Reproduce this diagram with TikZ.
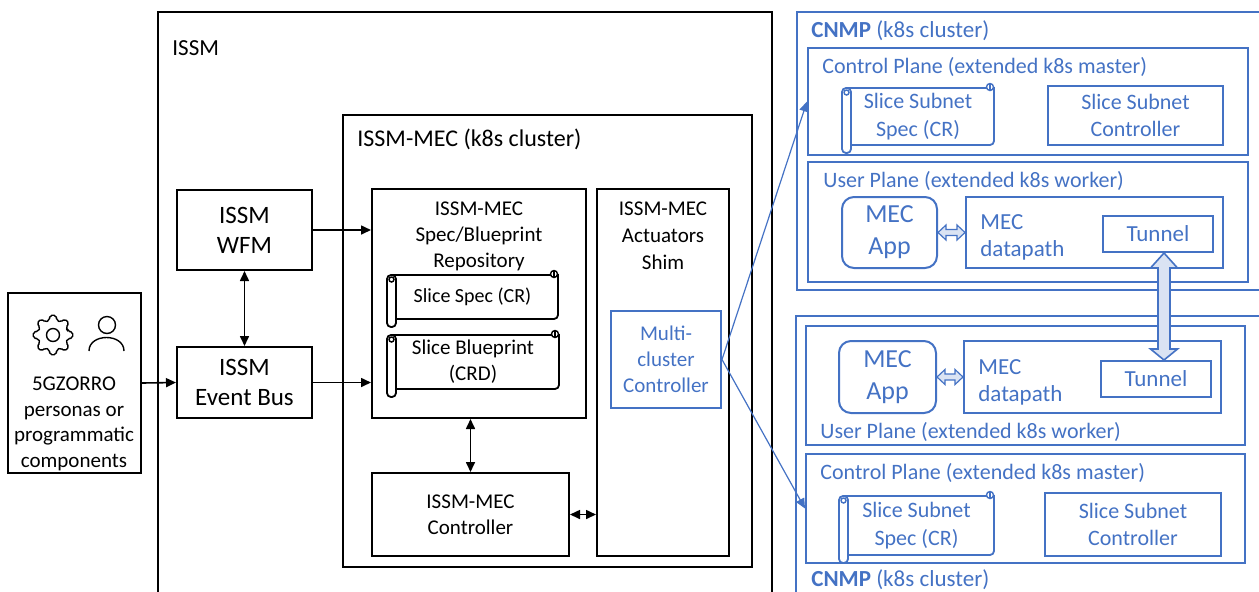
\documentclass[tikz,border=0pt]{standalone}
\usepackage{fontspec}
\setmainfont{Carlito}
\usetikzlibrary{calc}
\usetikzlibrary{arrows.meta}

\definecolor{cnblue}{RGB}{68,114,196}
\definecolor{cnfill}{RGB}{218,227,243}

\newcommand{\fsz}[2]{\fontsize{#1}{#2}\selectfont}
% scroll outline round a named node
\newcommand{\scrollfor}[2]{%
  \draw[#2, line width=0.9pt] ($(#1.north west)+(4,0)$) -- (#1.north east) [rounded corners=2pt] -- (#1.south east) -- ($(#1.south west)+(4,0)$);
  \draw[#2, line width=0.9pt, fill=white, rounded corners=2pt] (#1.north west) rectangle ($(#1.south west)+(9,8)$);
  \draw[#2, line width=0.7pt] ($(#1.north west)+(4.5,4.5)$) circle[radius=2.5];
  \draw[#2, line width=0.7pt, fill=white] ($(#1.north east)+(-4,-1)$) circle[radius=3.5];
  \draw[#2, line width=0.7pt] ($(#1.north east)+(-4,-4.5)$) -- ($(#1.north east)+(-4,2.5)$);}
\newcommand{\hdbl}[2]{%
  \draw[blockarr, line width=0.6pt] (#1.east) -- ++(8,-7.5) -- ++(0,4.5) -- ($(#2.west)+(-8,-3)$) -- ++(0,-4.5) -- (#2.west) -- ++(-8,7.5) -- ++(0,-4.5) -- ($(#1.east)+(8,3)$) -- ++(0,4.5) -- cycle;}

\begin{document}
\begin{tikzpicture}[x=0.5pt,y=-0.5pt,
    span/.style n args={4}{at={(#1/2+#3/2,#2/2+#4/2)}, minimum width=(#3-#1)*0.5pt, minimum height=(#4-#2)*0.5pt},
    box/.style={draw, line width=1pt, inner sep=0pt, align=center},
    bluebox/.style={box, draw=cnblue, text=cnblue},
    lbl/.style={anchor=west, inner sep=0pt},
    arr/.style={line width=0.8pt, -{Triangle[length=5pt,width=4.5pt]}},
    dblarr/.style={line width=0.8pt, {Triangle[length=5pt,width=4.5pt]}-{Triangle[length=5pt,width=4.5pt]}},
    bluearr/.style={cnblue, line width=0.6pt, -{Triangle[length=5pt,width=4.5pt]}},
    blockarr/.style={draw=cnblue, fill=cnfill, line width=0.8pt, line join=miter}]

  \useasboundingbox (0,0) rectangle (1259,591);
  \clip (0,0) rectangle (1259,591);

  % personas
  \node[box, span={8}{293}{141}{473}] (persona) {};
  \draw[line width=0.7pt, rounded corners=1pt, shift={(53,335)}] (-14:15)
    \foreach \a in {0,45,...,315} { -- (\a-14:15) -- (\a-9:20) -- (\a+9:20) -- (\a+14:15) } -- cycle;
  \draw[line width=0.7pt] (53,335) circle[radius=6.5];
  \draw[line width=0.7pt] (107,325) circle[radius=8.5];
  \draw[line width=0.7pt] (89,351) .. controls (89,333) and (124,333) .. (124,351);
  \node[align=center, font=\fsz{10.5}{12.8}] (personatxt) at (74,424) {5GZORRO\\personas or\\programmatic\\components};

  % ISSM
  \node[box, span={158}{12}{772}{620}] (issm) {};
  \node[lbl, font=\fsz{11.5}{14}] (issmlbl) at (172,48) {ISSM};
  \node[box, span={177}{190}{312}{270}, font=\fsz{12.5}{15}] (wfm) {ISSM\\WFM};
  \node[box, span={177}{347}{312}{418}, font=\fsz{12.5}{15}] (evbus) {ISSM\\Event Bus};

  \node[box, span={343}{115}{752}{567}] (issmmec) {};
  \node[lbl, font=\fsz{12}{14}] (issmmeclbl) at (357,139) {ISSM-MEC (k8s cluster)};
  \node[box, span={372}{189}{586}{418}] (repo) {};
  \node[align=center, font=\fsz{10.5}{13}] (repotxt) at (479,236) {ISSM-MEC\\Spec/Blueprint\\Repository};
  \node[box, draw=none, span={388}{276}{557}{318}, font=\fsz{10}{12}] (specA) {Slice Spec (CR)};
  \scrollfor{specA}{black}
  \node[box, draw=none, span={388}{336}{558}{388}, font=\fsz{10.5}{13}] (bprint) {Slice Blueprint\\(CRD)};
  \scrollfor{bprint}{black}
  \node[box, span={372}{473}{569}{556}, font=\fsz{10.5}{13}] (ctrl) {ISSM-MEC\\Controller};
  \node[box, span={597}{189}{729}{556}] (shim) {};
  \node[align=center, font=\fsz{10.5}{13.5}] (shimtxt) at (663,236) {ISSM-MEC\\Actuators\\Shim};
  \node[bluebox, span={611}{311}{721}{408}, font=\fsz{10.5}{13}] (mcc) {Multi-\\cluster\\Controller};

  % upper CNMP
  \node[bluebox, span={797}{12}{1275}{290}] (cnmpA) {};
  \node[lbl, text=cnblue, font=\fsz{11.5}{14}] (cnmpAlbl) at (811,31) {\textbf{CNMP} (k8s cluster)};
  \node[bluebox, span={808}{48}{1248}{155}] (cpA) {};
  \node[lbl, text=cnblue, font=\fsz{11}{13}] (cpAlbl) at (822,67) {Control Plane (extended k8s master)};
  \node[box, draw=none, text=cnblue, span={843}{89}{993}{144}, font=\fsz{11}{13.8}] (subspecA) {Slice Subnet\\Spec (CR)};
  \scrollfor{subspecA}{cnblue}
  \node[bluebox, span={1048}{86}{1223}{145}, font=\fsz{11}{13.8}] (subctrlA) {Slice Subnet\\Controller};
  \node[bluebox, span={808}{162}{1248}{282}] (upA) {};
  \node[lbl, text=cnblue, font=\fsz{11}{13}] (upAlbl) at (823,181) {User Plane (extended k8s worker)};
  \node[bluebox, rounded corners=6pt, span={842}{197}{937}{268}, font=\fsz{13}{16}] (appA) {MEC\\App};
  \node[bluebox, span={966}{197}{1223}{268}] (dpA) {};
  \node[lbl, align=left, text=cnblue, font=\fsz{11.5}{13.5}] (dpAtxt) at (980,237) {MEC\\datapath};
  \node[bluebox, span={1103}{216}{1213}{252}, font=\fsz{11.5}{13}] (tunA) {Tunnel};

  % lower CNMP
  \node[bluebox, span={796}{316}{1275}{610}] (cnmpB) {};
  \node[lbl, text=cnblue, font=\fsz{11.5}{14}] (cnmpBlbl) at (811,580) {\textbf{CNMP} (k8s cluster)};
  \node[bluebox, span={806}{326}{1245}{445}] (upB) {};
  \node[lbl, text=cnblue, font=\fsz{11}{13}] (upBlbl) at (820,432) {User Plane (extended k8s worker)};
  \node[bluebox, rounded corners=6pt, span={839}{341}{936}{413}, font=\fsz{13}{16}] (appB) {MEC\\App};
  \node[bluebox, span={964}{341}{1221}{413}] (dpB) {};
  \node[lbl, align=left, text=cnblue, font=\fsz{11.5}{13.5}] (dpBtxt) at (978,382) {MEC\\datapath};
  \node[bluebox, span={1101}{361}{1211}{397}, font=\fsz{11.5}{13}] (tunB) {Tunnel};
  \node[bluebox, span={806}{454}{1245}{563}] (cpB) {};
  \node[lbl, text=cnblue, font=\fsz{11}{13}] (cpBlbl) at (820,473) {Control Plane (extended k8s master)};
  \node[box, draw=none, text=cnblue, span={840}{497}{993}{554}, font=\fsz{11}{13.8}] (subspecB) {Slice Subnet\\Spec (CR)};
  \scrollfor{subspecB}{cnblue}
  \node[bluebox, span={1045}{493}{1221}{556}, font=\fsz{11}{13.8}] (subctrlB) {Slice Subnet\\Controller};

  % connectors
  \draw[arr] (persona.east) -- (evbus.west);
  \draw[dblarr] (wfm.south) -- (evbus.north);
  \draw[arr] (wfm.east) -- (wfm.east -| repo.west);
  \draw[arr] (evbus.east) -- (evbus.east -| repo.west);
  \draw[dblarr] (ctrl.north) -- (ctrl.north |- repo.south);
  \draw[dblarr] (ctrl.east) -- (ctrl.east -| shim.west);
  \draw[bluearr] (mcc.east) -- (cpA.west);
  \draw[bluearr] (mcc.east) -- (cpB.west);
  \foreach \s in {A,B}
    \hdbl{app\s}{dp\s};
  \coordinate (tunAend) at ([xshift=3pt]tunA.south);
  \coordinate (tunBend) at (tunAend |- tunB.north);
  \draw[blockarr] (tunAend) -- ++(13.5,15) -- ++(-7.5,0) -- ($(tunBend)+(6,-11)$) -- ++(7.5,0) -- (tunBend)
    -- ++(-13.5,-11) -- ++(7.5,0) -- ($(tunAend)+(-6,15)$) -- ++(-7.5,0) -- cycle;

\end{tikzpicture}
\end{document}
